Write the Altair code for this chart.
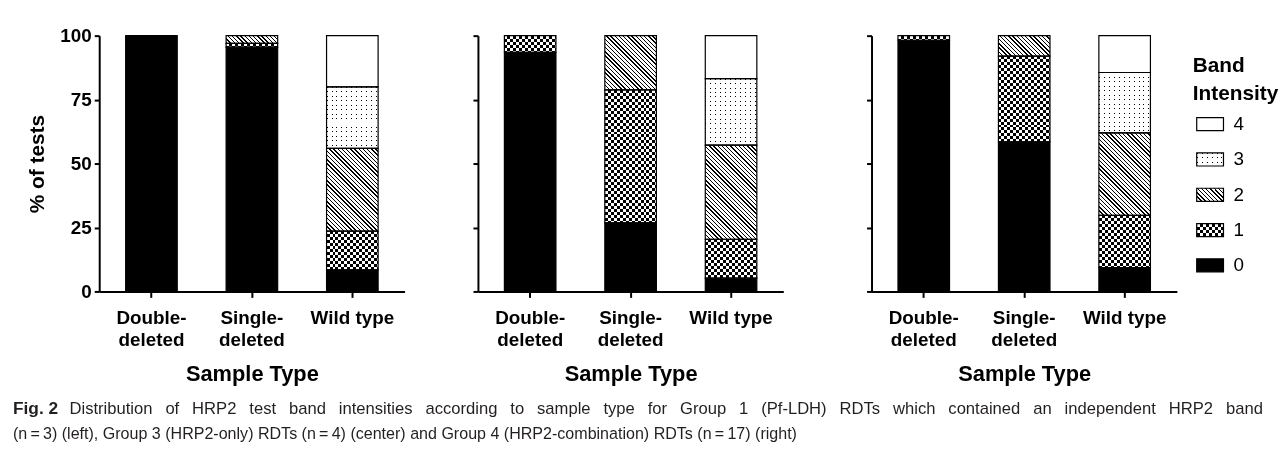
import math
import altair as alt
import pandas as pd

# ---------------- data ----------------
TYPES = ["Double-deleted", "Single-deleted", "Wild type"]
BANDS = [0, 1, 2, 3, 4]
# % of tests with band intensity 0..4, per sample type
G1_DOUBLE = [100.0, 0.0, 0.0, 0.0, 0.0]
G1_SINGLE = [95.5, 1.5, 3.0, 0.0, 0.0]
G1_WILD = [8.4, 15.2, 32.3, 24.1, 20.0]
G3_DOUBLE = [93.5, 6.5, 0.0, 0.0, 0.0]
G3_SINGLE = [26.8, 52.0, 21.2, 0.0, 0.0]
G3_WILD = [5.2, 15.2, 36.8, 26.0, 16.8]
G4_DOUBLE = [98.2, 1.8, 0.0, 0.0, 0.0]
G4_SINGLE = [58.5, 33.5, 8.0, 0.0, 0.0]
G4_WILD = [9.3, 20.4, 32.3, 23.6, 14.4]
Y_TICKS = [0, 25, 50, 75, 100]

Y_TITLE = "% of tests"
X_TITLE = "Sample Type"
LEGEND_TITLE = ["Band", "Intensity"]
CAP_FIG = "Fig. 2"
CAP_1_WORDS = ["Distribution", "of", "HRP2", "test", "band", "intensities", "according", "to",
               "sample", "type", "for", "Group", "1", "(Pf-LDH)", "RDTs", "which", "contained",
               "an", "independent", "HRP2", "band"]
CAP_2 = ("(n\u2009=\u20093) (left), Group 3 (HRP2-only) RDTs (n\u2009=\u20094) (center) and "
         "Group 4 (HRP2-combination) RDTs (n\u2009=\u200917) (right)")
# first caption line is justified in the original: widen its word gaps
CAP_1 = "\u2002 ".join(CAP_1_WORDS)

# ---------------- layout / style ----------------
PW, PH = 308, 258
BAR = 52
LEG_W, LEG_H = 27, 13
FONT = "Liberation Sans, Arial, Helvetica, sans-serif"
CAP_FONT = "Liberation Sans, Arial, sans-serif"


def stripes_expr(span, period, on, n, c_on, c_off, coords):
    stops = []
    for i in range(n):
        a = i * period
        b = a + on
        c = a + period
        for off, col in ((a, c_on), (b, c_on), (b, c_off), (c, c_off)):
            stops.append("{offset:min(1,%.2f/%s),color:'%s'}" % (off, span, col))
    return "{gradient:'linear'," + coords + ",stops:[" + ",".join(stops) + "]}"


def const_stripes(w, period, on, c_on, c_off):
    stops = []
    a = 0.0
    while a < w:
        b = a + on
        c = a + period
        stops += [
            {"offset": min(1.0, a / w), "color": c_on},
            {"offset": min(1.0, b / w), "color": c_on},
            {"offset": min(1.0, b / w), "color": c_off},
            {"offset": min(1.0, c / w), "color": c_off},
        ]
        a += period
    return {"gradient": "linear", "x1": 0, "y1": 0, "x2": 1, "y2": 0, "stops": stops}


def add_patterns(chart, w):
    return (
        chart.transform_calculate(
            dt="datum.hpx/%d" % w,
        )
        .transform_calculate(
            dk="(1+datum.dt)/(1+datum.dt*datum.dt)",
            dspan="(%d+datum.hpx)/sqrt(2)" % w,
        )
        .transform_calculate(
            gh=stripes_expr("datum.hpx", 6, 3, 25, "black", "white", "x1:0,y1:0,x2:0,y2:1"),
            gdot=stripes_expr("datum.hpx", 4.5, 1, 18, "black", "white", "x1:0,y1:0,x2:0,y2:1"),
            gd=stripes_expr("datum.dspan", 3.0, 1.0, 50, "black", "white",
                            "x1:0,y1:1,x2:datum.dk,y2:1-datum.dk*datum.dt"),
        )
    )


def band_layers(base, w, enc, rect=False):
    def mk(ch, **kw):
        if rect:
            return ch.mark_rect(aria=False, **kw)
        return ch.mark_bar(size=BAR, aria=False, **kw)

    f = lambda k: base.transform_filter("datum.band == %d" % k)
    return [
        mk(f(0), fill="black").encode(**enc),
        mk(f(1)).encode(fill=alt.Fill("gh:N", scale=None), **enc),
        mk(f(1), fill=const_stripes(w, 6, 3, "white", "black"), blend="difference").encode(**enc),
        mk(f(2)).encode(fill=alt.Fill("gd:N", scale=None), **enc),
        mk(f(3)).encode(fill=alt.Fill("gdot:N", scale=None), **enc),
        mk(f(3), fill=const_stripes(w, 5, 1, "black", "white"), blend="lighten").encode(**enc),
        mk(f(4), fill="white").encode(**enc),
        mk(base, fillOpacity=0, stroke="black", strokeWidth=1.2).encode(**enc),
    ]


def panel(vals, first, spacer):
    rows = [
        {"type": t, "band": b, "value": v}
        for t, vv in zip(TYPES, vals)
        for b, v in zip(BANDS, vv)
    ]
    df = pd.DataFrame(rows)
    base = (
        alt.Chart(df)
        .transform_filter("datum.value > 0")
        .transform_stack(stack="value", groupby=["type"], as_=["v0", "v1"],
                         sort=[alt.SortField("band", order="ascending")])
        .transform_calculate(hpx="(datum.v1-datum.v0)*%f" % (PH / 100.0))
    )
    base = add_patterns(base, BAR)
    if first:
        yaxis = alt.Axis(values=Y_TICKS, title=Y_TITLE, titleFontSize=21, titleFontWeight="bold",
                         titleFont=FONT, titleColor="black", titlePadding=12,
                         labelFontSize=19, labelFontWeight="bold", labelFont=FONT,
                         labelColor="black", labelPadding=3, tickSize=5, tickWidth=2,
                         tickColor="black", domainWidth=2, domainColor="black", grid=False)
    else:
        yaxis = alt.Axis(values=Y_TICKS, title=None, labels=False, tickSize=5, tickWidth=2,
                         tickColor="black", domainWidth=2, domainColor="black", grid=False)
    xaxis = alt.Axis(title=X_TITLE, titleFontSize=22, titleFontWeight="bold", titleFont=FONT,
                     titleColor="black", titlePadding=14,
                     labelFontSize=19, labelFontWeight="bold", labelFont=FONT, labelColor="black",
                     labelAngle=0, labelPadding=11, labelLineHeight=23,
                     labelExpr="datum.value == 'Wild type' ? datum.value : "
                               "[split(datum.value, '-')[0] + '-', split(datum.value, '-')[1]]",
                     tickSize=6, tickWidth=2, tickColor="black", domainWidth=2,
                     domainColor="black", grid=False)
    enc = dict(
        x=alt.X("type:N", sort=TYPES,
                scale=alt.Scale(domain=TYPES, paddingInner=0, paddingOuter=0.02), axis=xaxis),
        y=alt.Y("v1:Q", scale=alt.Scale(domain=[0, 100]), axis=yaxis),
        y2="v0:Q",
    )
    layers = band_layers(base, BAR, enc)
    sp = alt.Chart(df).mark_rule(strokeOpacity=0, aria=False).encode(
        x=alt.value(-spacer), y=alt.value(0), y2=alt.value(1))
    return alt.layer(sp, *layers).properties(width=PW, height=PH)


p1 = panel([G1_DOUBLE, G1_SINGLE, G1_WILD], True, 87)
p2 = panel([G3_DOUBLE, G3_SINGLE, G3_WILD], False, 58)
p3 = panel([G4_DOUBLE, G4_SINGLE, G4_WILD], False, 73)

# ---------------- legend ----------------
ldf = pd.DataFrame({"band": BANDS})
lbase = alt.Chart(ldf).transform_calculate(x0="0", x1="1", hpx=str(LEG_H))
lbase = add_patterns(lbase, LEG_W)
yscale = alt.Scale(domain=BANDS[::-1], range=[71.5, 249.5], paddingInner=0.63, paddingOuter=0.315)
lenc = dict(
    x=alt.X("x0:Q", scale=alt.Scale(domain=[0, 1]), axis=None),
    x2="x1:Q",
    y=alt.Y("band:O", scale=yscale, axis=None),
)
leg_layers = band_layers(lbase, LEG_W, lenc, rect=True)
leg_labels = alt.Chart(ldf).transform_calculate(x1="1").mark_text(
    align="left", baseline="middle", dx=10, fontSize=19, font=FONT, color="black"
).encode(x=alt.X("x1:Q", scale=alt.Scale(domain=[0, 1]), axis=None),
         y=alt.Y("band:O", scale=yscale, axis=None), text="band:N")
leg_title = alt.Chart(pd.DataFrame({"k": [0]})).mark_text(
    text=LEGEND_TITLE, align="left", baseline="top", fontSize=21, fontWeight="bold",
    font=FONT, color="black", lineHeight=28
).encode(x=alt.value(-4), y=alt.value(20))
legend = alt.layer(*leg_layers, leg_labels, leg_title).properties(width=LEG_W, height=PH)

row = alt.hconcat(p1, p2, p3, legend, spacing=16)

# ---------------- caption ----------------
cdf = pd.DataFrame({"k": [0]})
cap = alt.layer(
    alt.Chart(cdf).mark_text(text=CAP_FIG, align="left", baseline="middle", fontSize=17.5,
                             fontWeight="bold", font=CAP_FONT, color="#231f20")
    .encode(x=alt.value(-87), y=alt.value(10)),
    alt.Chart(cdf).mark_text(text=CAP_1, align="left", baseline="middle", fontSize=16.75,
                             font=CAP_FONT, color="#231f20")
    .encode(x=alt.value(-30), y=alt.value(10)),
    alt.Chart(cdf).mark_text(text=CAP_2, align="left", baseline="middle", fontSize=16.2,
                             font=CAP_FONT, color="#231f20")
    .encode(x=alt.value(-87), y=alt.value(35)),
).properties(width=1000, height=44)

chart = (
    alt.vconcat(row, cap, spacing=15)
    .properties(padding={"left": 5, "top": 17, "right": 0, "bottom": 0})
    .configure(background="white")
    .configure_view(stroke=None, strokeWidth=0)
)

chart.save("out.html", embed_options={"renderer": "svg", "actions": False})
